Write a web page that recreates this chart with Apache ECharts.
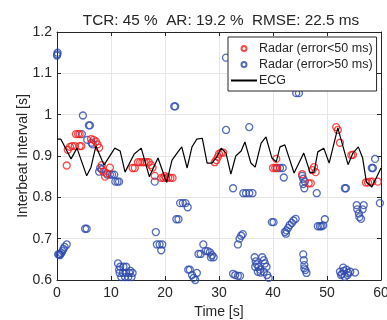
<!DOCTYPE html>
<html><head><meta charset="utf-8">
<script src="https://cdn.jsdelivr.net/npm/echarts@6/dist/echarts.min.js"></script>
<style>html,body{margin:0;padding:0;background:#fff}#c{width:387px;height:320px}</style>
</head><body><div id="c"></div>
<script>
const titleText = 'TCR: 45 %  AR: 19.2 %  RMSE: 22.5 ms';
const xTicks = [0, 10, 20, 30, 40, 50, 60];
const yTicks = [0.6, 0.7, 0.8, 0.9, 1.0, 1.1, 1.2];
const seriesNames = ['Radar (error<50 ms)', 'Radar (error>50 ms)', 'ECG'];

const ecgBeats = [[0,0.941],[0.7,0.941],[2.6,0.893],[3.7,0.919],[5.5,0.852],[6.3,0.873],[7.2,0.924],[8.7,0.878],[10.7,0.919],[11.7,0.912],[12.6,0.861],[14.3,0.905],[15.6,0.919],[17.1,0.85],[18.7,0.895],[20.3,0.836],[21.3,0.89],[22.4,0.910],[23.1,0.922],[24.1,0.871],[25.0,0.922],[25.9,0.941],[26.9,0.943],[27.8,0.883],[28.7,0.883],[29.6,0.898],[30.4,0.919],[31.3,0.907],[32.2,0.856],[33.1,0.900],[34.1,0.912],[34.8,0.934],[35.9,0.883],[36.7,0.873],[37.8,0.931],[38.7,0.946],[39.8,0.895],[40.6,0.886],[41.3,0.922],[42.2,0.927],[43.9,0.859],[45.7,0.907],[46.9,0.859],[47.6,0.861],[48.3,0.910],[49.4,0.919],[50.4,0.883],[52.0,0.968],[53.9,0.879],[54.8,0.907],[55.8,0.922],[56.6,0.895],[57.3,0.837],[58.3,0.825],[60,0.871]];

const radarGood = [[1.8,0.877],[2.0,0.915],[2.4,0.922],[2.8,0.924],[3.3,0.924],[4.2,0.924],[4.5,0.924],[3.5,0.953],[3.9,0.953],[4.2,0.953],
[6.3,0.941],[6.8,0.939],[7.2,0.935],[7.5,0.928],[7.8,0.92],
[8.3,0.878],[8.6,0.862],[8.9,0.850],[9.2,0.858],[9.8,0.872],
[14.0,0.871],[14.4,0.871],[15.0,0.885],[15.4,0.885],[15.8,0.885],[16.2,0.885],[16.6,0.885],[17.0,0.885],[17.4,0.878],[17.7,0.872],[18.1,0.852],
[19.3,0.847],[19.7,0.847],[20.2,0.847],[20.6,0.848],[21.0,0.847],[21.4,0.847],[20.0,0.851],
[29.2,0.885],[29.5,0.890],[29.8,0.898],[30.0,0.905],[30.4,0.908],[30.8,0.908],
[40.0,0.871],[40.4,0.871],[40.8,0.871],[40.6,0.893],
[45.4,0.856],[46.6,0.834],[47.0,0.834],[47.3,0.866],[47.6,0.873],[47.9,0.861],
[51.7,0.970],[52.0,0.963],[52.4,0.932],
[54.5,0.902],[54.8,0.903],
[57.2,0.836],[57.6,0.836],[58.0,0.838],[58.4,0.838],[59.4,0.838]];

const radarBad = [[0.0,1.143],[0.1,1.150],[0.05,1.146],
[0.2,0.662],[0.4,0.662],[0.6,0.662],[0.8,0.665],[1.0,0.670],[1.2,0.675],[1.4,0.680],[1.8,0.686],[0.5,0.660],
[4.8,0.998],[5.9,0.974],[6.1,0.974],[4.6,0.953],[5.6,0.939],[6.4,0.932],[6.6,0.928],
[8.0,0.871],[8.3,0.868],[7.8,0.862],
[9.3,0.855],[9.8,0.855],[10.2,0.855],[10.6,0.855],[10.8,0.838],[11.2,0.838],[11.5,0.838],
[5.2,0.724],[5.5,0.724],
[11.3,0.640],[11.7,0.632],[12.3,0.632],[12.8,0.632],[11.6,0.617],[12.2,0.617],[12.8,0.617],[13.4,0.617],[14.0,0.617],[11.9,0.607],[12.6,0.607],[13.2,0.607],[13.8,0.607],[11.5,0.625],[13.6,0.622],
[18.3,0.716],[18.5,0.686],[19.0,0.686],[19.5,0.686],[19.3,0.672],[18.1,0.838],
[21.7,1.02],[21.9,1.02],
[22.1,0.747],[22.5,0.747],[22.8,0.786],[23.3,0.786],[23.8,0.786],[24.2,0.776],
[24.3,0.625],[24.6,0.625],[25.0,0.612],[25.3,0.605],[25.6,0.600],[25.9,0.617],
[26.2,0.663],[26.6,0.663],[27.1,0.686],[27.5,0.670],[27.9,0.670],[28.3,0.667],[28.7,0.660],[29.0,0.655],[28.5,0.655],
[31.3,1.138],[31.3,0.963],[35.6,0.970],
[32.6,0.822],[34.5,0.810],[35.0,0.810],[35.6,0.810],[36.2,0.810],
[32.6,0.615],[33.0,0.612],[33.5,0.610],[33.9,0.610],
[33.5,0.686],[33.8,0.700],[34.1,0.707],[34.4,0.711],
[36.6,0.655],[36.8,0.645],[37.0,0.638],[36.7,0.632],[37.3,0.632],[37.6,0.625],[38.0,0.655],[38.3,0.648],[38.5,0.640],[38.8,0.632],[37.2,0.620],[37.7,0.618],[38.3,0.620],[38.9,0.612],[39.2,0.605],[39.1,0.598],
[39.8,0.740],[40.1,0.740],
[40.7,0.871],[41.3,0.871],[41.8,0.871],[42.0,0.848],
[42.2,0.716],[42.5,0.720],[42.8,0.726],[43.1,0.733],[43.5,0.738],[43.8,0.744],[44.2,0.748],[42.4,0.712],
[44.3,1.052],[44.8,1.052],
[45.4,0.852],[45.6,0.845],[45.9,0.838],[45.6,0.832],[45.8,0.822],[48.1,0.810],
[48.3,0.730],[48.7,0.730],[49.0,0.730],[49.3,0.732],[49.6,0.747],
[45.6,0.662],[45.7,0.648],[45.8,0.636],[46.0,0.624],[46.2,0.617],[45.8,0.628],
[53.3,0.822],[53.5,0.822],
[52.4,0.620],[52.8,0.615],[53.1,0.622],[53.6,0.625],[53.9,0.617],[54.3,0.620],[55.2,0.618],[52.6,0.612],[53.3,0.608],[53.8,0.612],[53.0,0.630],
[55.5,0.781],[55.6,0.771],[55.9,0.761],[56.3,0.748],[56.6,0.771],[56.8,0.781],[56.0,0.752],
[58.5,0.871],[58.9,0.893],[59.8,0.786],[58.3,0.871]];

const FONT = '"Liberation Sans", Arial, sans-serif';
const AX = '#262626';
const RED = '#f41e1e';
const BLUE = '#2c48ac';
const chart = echarts.init(document.getElementById('c'), null, {renderer: 'canvas'});
const axisCommon = {
  axisLine: {show: true, onZero: false, lineStyle: {color: AX, width: 1}},
  axisTick: {show: true, inside: true, length: 4, lineStyle: {color: AX}},
};
chart.setOption({
  animation: false,
  backgroundColor: '#fff',
  title: {text: titleText, left: 216, textAlign: 'center', top: 8,
    textStyle: {fontFamily: FONT, fontSize: 15.3, fontWeight: 'normal', color: AX}},
  grid: {left: 57, right: 6, top: 32, bottom: 40, containLabel: false, outerBoundsMode: 'none'},
  legend: {orient: 'vertical', left: 228, top: 37,
    data: [
      {name: seriesNames[0]},
      {name: seriesNames[1]},
      {name: seriesNames[2], itemStyle: {opacity: 0}}
    ],
    backgroundColor: '#fff', borderColor: AX, borderWidth: 1, borderRadius: 0,
    padding: [4, 4, 3, 2], itemGap: 1, itemWidth: 26, itemHeight: 5,
    textStyle: {fontFamily: FONT, fontSize: 12.5, color: AX, padding: [0, 0, 0, -3], lineHeight: 15}},
  xAxis: [
    Object.assign({type: 'value', min: xTicks[0], max: xTicks[xTicks.length-1], interval: 10,
      name: 'Time [s]', nameLocation: 'middle', nameGap: 25, nameMoveOverlap: false,
      nameTextStyle: {fontFamily: FONT, fontSize: 14, color: AX},
      axisLabel: {fontFamily: FONT, fontSize: 14, color: AX, margin: 6},
      splitLine: {show: true, lineStyle: {color: '#e6e6e6', width: 1}}}, axisCommon),
    Object.assign({type: 'value', position: 'top', min: 0, max: 60, interval: 10,
      axisLabel: {show: false}, splitLine: {show: false}}, axisCommon)
  ],
  yAxis: [
    Object.assign({type: 'value', min: yTicks[0], max: yTicks[yTicks.length-1], interval: 0.1,
      name: 'Interbeat Interval [s]', nameLocation: 'middle', nameGap: 27, nameMoveOverlap: false,
      nameTextStyle: {fontFamily: FONT, fontSize: 14, color: AX},
      axisLabel: {fontFamily: FONT, fontSize: 14, color: AX, margin: 5,
        formatter: v => String(Math.round(v*10)/10)},
      splitLine: {show: true, lineStyle: {color: '#e6e6e6', width: 1}}}, axisCommon),
    Object.assign({type: 'value', position: 'right', min: 0.6, max: 1.2, interval: 0.1,
      axisLabel: {show: false}, splitLine: {show: false}}, axisCommon)
  ],
  series: [
    {name: seriesNames[0], type: 'scatter', data: radarGood, symbol: 'circle', symbolSize: 7,
      itemStyle: {color: 'rgba(0,0,0,0)', borderColor: RED, borderWidth: 1.3}, z: 3},
    {name: seriesNames[1], type: 'scatter', data: radarBad, symbol: 'circle', symbolSize: 7,
      itemStyle: {color: 'rgba(0,0,0,0)', borderColor: BLUE, borderWidth: 1.3}, z: 2},
    {name: seriesNames[2], type: 'line', data: ecgBeats, symbol: 'none', showSymbol: false,
      lineStyle: {color: '#000', width: 1.2}, itemStyle: {color: '#000'}, z: 4}
  ]
});
</script></body></html>
